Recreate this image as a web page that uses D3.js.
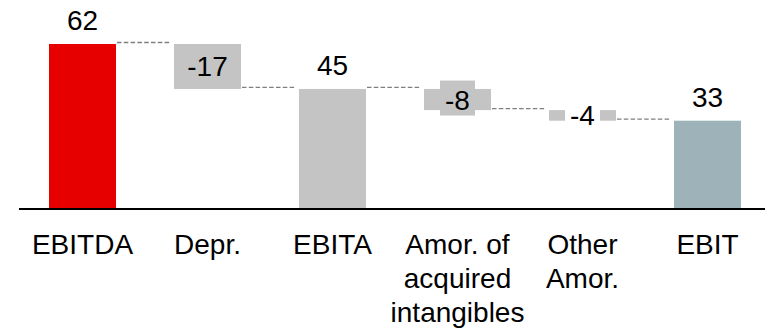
<!DOCTYPE html>
<html>
<head>
<meta charset="utf-8">
<script src="https://cdn.jsdelivr.net/npm/d3@7"></script>
<style>
  html, body { margin: 0; padding: 0; background: #fff; }
  svg { display: block; }
  text { font-family: "Liberation Sans", Arial, sans-serif; }
</style>
</head>
<body>
<svg id="chart" width="765" height="331"></svg>
<script>
// ---- data ----
const categories = ["EBITDA", "Depr.", "EBITA", "Amor. of acquired intangibles", "Other Amor.", "EBIT"];
const categoryLines = [["EBITDA"], ["Depr."], ["EBITA"], ["Amor. of", "acquired", "intangibles"], ["Other", "Amor."], ["EBIT"]];
const values = [62, -17, 45, -8, -4, 33];
const kinds = ["total", "delta", "total", "delta", "delta", "total"];
const valueLabels = ["62", "-17", "45", "-8", "-4", "33"];

// ---- styles (kept separate from data) ----
const barColors = ["#e60000", "#c4c4c4", "#c4c4c4", "#c4c4c4", "#c4c4c4", "#9db2b9"];
const labelBoxColors = [null, null, null, "#c4c4c4", "#ffffff", null];

const svg = d3.select("#chart");
const W = 765, H = 331;

// compute waterfall extents
let running = 0;
const bars = categories.map((c, i) => {
  let lo, hi, end;
  if (kinds[i] === "total") {
    lo = 0; hi = values[i]; running = values[i]; end = values[i];
  } else {
    const start = running;
    running = start + values[i];
    lo = Math.min(start, running); hi = Math.max(start, running); end = running;
  }
  return { c, i, lo, hi, end, kind: kinds[i], label: valueLabels[i] };
});

const x = d3.scaleBand()
  .domain(categories)
  .range([20, 770])
  .paddingInner(0.464)
  .paddingOuter(0.232);

const y = d3.scaleLinear().domain([0, 62]).range([208, 44]);

// connectors
const conn = svg.append("g");
for (let i = 0; i < bars.length - 1; i++) {
  const a = bars[i], b = bars[i + 1];
  conn.append("line")
    .attr("x1", x(a.c) + x.bandwidth() + 1)
    .attr("x2", x(b.c) - 4)
    .attr("y1", y(a.end) - 1.5)
    .attr("y2", y(a.end) - 1.5)
    .attr("stroke", "#7f7f7f")
    .attr("stroke-width", 1.3)
    .attr("stroke-dasharray", "4.5,2.3");
}

// bars
svg.append("g").selectAll("rect")
  .data(bars)
  .join("rect")
  .attr("x", d => x(d.c))
  .attr("width", x.bandwidth())
  .attr("y", d => y(d.hi))
  .attr("height", d => y(d.lo) - y(d.hi))
  .attr("fill", d => barColors[d.i]);

// baseline axis
svg.append("line")
  .attr("x1", 19).attr("x2", W)
  .attr("y1", y(0) + 1).attr("y2", y(0) + 1)
  .attr("stroke", "#000").attr("stroke-width", 2);

// value labels
const lab = svg.append("g");
bars.forEach(d => {
  const cx = x(d.c) + x.bandwidth() / 2;
  if (d.kind === "total") {
    lab.append("text")
      .attr("x", cx).attr("y", y(d.hi) - 14)
      .attr("text-anchor", "middle")
      .attr("font-size", 28)
      .attr("fill", "#000")
      .text(d.label);
  } else {
    const cy = (y(d.lo) + y(d.hi)) / 2;
    if (labelBoxColors[d.i]) {
      lab.append("rect")
        .attr("x", cx - 17.5).attr("y", cy - 19)
        .attr("width", 35).attr("height", 35)
        .attr("fill", labelBoxColors[d.i]);
    }
    lab.append("text")
      .attr("x", cx).attr("y", cy + 10)
      .attr("text-anchor", "middle")
      .attr("font-size", 28)
      .attr("fill", "#000")
      .text(d.label);
  }
});

// category labels
const cat = svg.append("g");
categories.forEach((c, i) => {
  const t = cat.append("text")
    .attr("x", x(c) + x.bandwidth() / 2)
    .attr("y", 254)
    .attr("text-anchor", "middle")
    .attr("font-size", 28)
    .attr("fill", "#000");
  categoryLines[i].forEach((ln, k) => {
    t.append("tspan")
      .attr("x", x(c) + x.bandwidth() / 2)
      .attr("dy", k === 0 ? 0 : 34)
      .text(ln);
  });
});
</script>
</body>
</html>
